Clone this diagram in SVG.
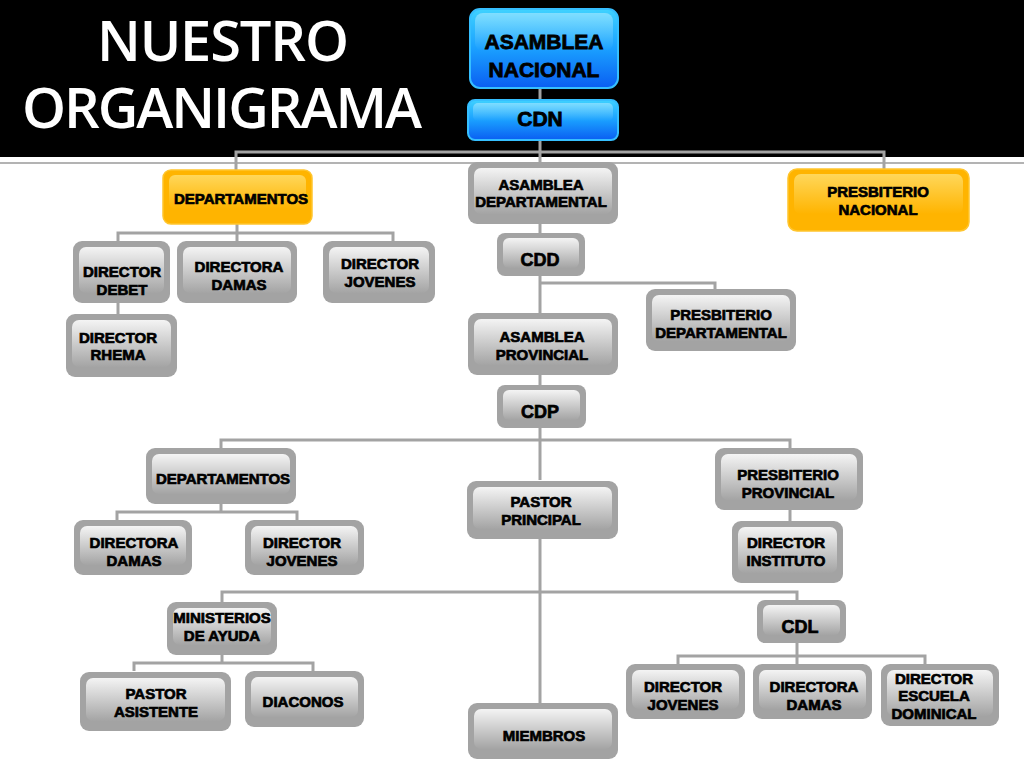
<svg xmlns="http://www.w3.org/2000/svg" width="1024" height="768" viewBox="0 0 1024 768">
<defs>
<linearGradient id="gIn" x1="0" y1="0" x2="0" y2="1"><stop offset="0" stop-color="#f4f4f4"/><stop offset="1" stop-color="#a4a4a4"/></linearGradient>
<linearGradient id="oIn" x1="0" y1="0" x2="0" y2="1"><stop offset="0" stop-color="#ffd75a"/><stop offset="1" stop-color="#ffb400"/></linearGradient>
<linearGradient id="bOut" x1="0" y1="0" x2="0" y2="1"><stop offset="0" stop-color="#3fd2ff"/><stop offset="0.5" stop-color="#1aa0ff"/><stop offset="1" stop-color="#0a5ef2"/></linearGradient>
<linearGradient id="bIn" x1="0" y1="0" x2="0" y2="1"><stop offset="0" stop-color="#ffffff" stop-opacity="0.35"/><stop offset="1" stop-color="#ffffff" stop-opacity="0"/></linearGradient>
</defs>
<style>
.go{fill:#a3a3a3}
.gi{fill:url(#gIn)}
.oo{fill:#ffb400;stroke:#ffc52e;stroke-width:1.5}
.oi{fill:url(#oIn)}
.bo{fill:url(#bOut);stroke:#36bfff;stroke-width:2}
.bi{fill:url(#bIn)}
.t{font-family:"Liberation Sans",Arial,sans-serif;font-weight:bold;font-size:15px;fill:#000;stroke:#000;stroke-width:0.7;text-anchor:middle}
.tb{font-size:21px;stroke-width:0.8}
.tc{font-size:18px}
.title{font-family:"Open Sans","Liberation Sans",sans-serif;font-weight:600;font-size:56px;fill:#fff;text-anchor:middle}
.c{fill:none;stroke:#a3a3a3;stroke-width:3}
</style>
<rect width="1024" height="768" fill="#fff"/>
<rect x="0" y="0" width="1024" height="157" fill="#000"/>
<line x1="0" y1="163" x2="1024" y2="163" stroke="#9a9a9a" stroke-width="1.5"/>
<g id="title">
<text class="title" x="223" y="61" textLength="252">NUESTRO</text>
<text class="title" x="222" y="128" textLength="400">ORGANIGRAMA</text>
</g>
<g id="connectors">
<path class="c" d="M540 88V100"/>
<path class="c" d="M540 140V162"/>
<path class="c" d="M236 170V152H884V169"/>
<path class="c" d="M237 224V241"/>
<path class="c" d="M118 241V233H393V241"/>
<path class="c" d="M118 303V314"/>
<path class="c" d="M540 224V233"/>
<path class="c" d="M540 275V313"/>
<path class="c" d="M540 283H715V289"/>
<path class="c" d="M540 375V385"/>
<path class="c" d="M540 428V480"/>
<path class="c" d="M221 448V440H790V448"/>
<path class="c" d="M221 503V512"/>
<path class="c" d="M117 520V512H297V520"/>
<path class="c" d="M790 510V521"/>
<path class="c" d="M540 538V703"/>
<path class="c" d="M222 603V592H797V600"/>
<path class="c" d="M222 655V663"/>
<path class="c" d="M134 671V663H313V671"/>
<path class="c" d="M797 643V664"/>
<path class="c" d="M678 664V656H925V664"/>
</g>
<g id="n-asamblea-nacional">
<rect class="bo" x="470" y="9" width="148" height="79" rx="10"/>
<rect class="bi" x="475" y="13" width="138" height="38" rx="8"/>
<text class="t tb" x="544" y="49">ASAMBLEA</text>
<text class="t tb" x="544" y="77">NACIONAL</text>
</g>
<g id="n-cdn">
<rect class="bo" x="468" y="100" width="150" height="40" rx="7"/>
<rect class="bi" x="473" y="103" width="140" height="18" rx="5"/>
<text class="t tb" x="540" y="126">CDN</text>
</g>
<g id="n-departamentos-1">
<rect class="oo" x="163" y="170" width="149" height="54" rx="8"/>
<rect class="oi" x="169" y="175" width="137" height="34" rx="6"/>
<text class="t" x="241" y="204">DEPARTAMENTOS</text>
</g>
<g id="n-asamblea-departamental">
<rect class="go" x="468" y="162" width="150" height="62" rx="9"/>
<rect class="gi" x="474" y="168" width="138" height="46" rx="7"/>
<text class="t" x="541" y="190">ASAMBLEA</text>
<text class="t" x="541" y="207">DEPARTAMENTAL</text>
</g>
<g id="n-presbiterio-nacional">
<rect class="oo" x="788" y="169" width="181" height="62" rx="9"/>
<rect class="oi" x="794" y="174" width="169" height="40" rx="7"/>
<text class="t" x="878" y="197">PRESBITERIO</text>
<text class="t" x="878" y="215">NACIONAL</text>
</g>
<g id="n-director-debet">
<rect class="go" x="73" y="241" width="97" height="62" rx="9"/>
<rect class="gi" x="79" y="247" width="85" height="46" rx="7"/>
<text class="t" x="122" y="277">DIRECTOR</text>
<text class="t" x="122" y="295">DEBET</text>
</g>
<g id="n-directora-damas-1">
<rect class="go" x="177" y="241" width="120" height="62" rx="9"/>
<rect class="gi" x="183" y="247" width="108" height="46" rx="7"/>
<text class="t" x="239" y="272">DIRECTORA</text>
<text class="t" x="239" y="290">DAMAS</text>
</g>
<g id="n-director-jovenes-1">
<rect class="go" x="323" y="241" width="112" height="62" rx="9"/>
<rect class="gi" x="329" y="247" width="100" height="46" rx="7"/>
<text class="t" x="380" y="269">DIRECTOR</text>
<text class="t" x="380" y="287">JOVENES</text>
</g>
<g id="n-director-rhema">
<rect class="go" x="66" y="314" width="111" height="63" rx="9"/>
<rect class="gi" x="72" y="320" width="99" height="47" rx="7"/>
<text class="t" x="118" y="343">DIRECTOR</text>
<text class="t" x="118" y="360">RHEMA</text>
</g>
<g id="n-cdd">
<rect class="go" x="497" y="233" width="88" height="43" rx="8"/>
<rect class="gi" x="503" y="238" width="76" height="30" rx="6"/>
<text class="t tc" x="540" y="266">CDD</text>
</g>
<g id="n-presbiterio-departamental">
<rect class="go" x="646" y="289" width="150" height="62" rx="9"/>
<rect class="gi" x="652" y="295" width="138" height="46" rx="7"/>
<text class="t" x="721" y="320">PRESBITERIO</text>
<text class="t" x="721" y="338">DEPARTAMENTAL</text>
</g>
<g id="n-asamblea-provincial">
<rect class="go" x="468" y="313" width="150" height="62" rx="9"/>
<rect class="gi" x="474" y="319" width="138" height="46" rx="7"/>
<text class="t" x="542" y="342">ASAMBLEA</text>
<text class="t" x="542" y="360">PROVINCIAL</text>
</g>
<g id="n-cdp">
<rect class="go" x="497" y="385" width="89" height="43" rx="8"/>
<rect class="gi" x="503" y="390" width="77" height="30" rx="6"/>
<text class="t tc" x="540" y="418">CDP</text>
</g>
<g id="n-departamentos-2">
<rect class="go" x="146" y="448" width="150" height="56" rx="9"/>
<rect class="gi" x="152" y="454" width="138" height="40" rx="7"/>
<text class="t" x="223" y="484">DEPARTAMENTOS</text>
</g>
<g id="n-pastor-principal">
<rect class="go" x="467" y="481" width="151" height="58" rx="9"/>
<rect class="gi" x="473" y="487" width="139" height="42" rx="7"/>
<text class="t" x="541" y="507">PASTOR</text>
<text class="t" x="541" y="525">PRINCIPAL</text>
</g>
<g id="n-presbiterio-provincial">
<rect class="go" x="715" y="448" width="148" height="62" rx="9"/>
<rect class="gi" x="721" y="454" width="136" height="46" rx="7"/>
<text class="t" x="788" y="480">PRESBITERIO</text>
<text class="t" x="788" y="498">PROVINCIAL</text>
</g>
<g id="n-directora-damas-2">
<rect class="go" x="74" y="520" width="118" height="55" rx="9"/>
<rect class="gi" x="80" y="526" width="106" height="39" rx="7"/>
<text class="t" x="134" y="548">DIRECTORA</text>
<text class="t" x="134" y="566">DAMAS</text>
</g>
<g id="n-director-jovenes-2">
<rect class="go" x="245" y="520" width="119" height="55" rx="9"/>
<rect class="gi" x="251" y="526" width="107" height="39" rx="7"/>
<text class="t" x="302" y="548">DIRECTOR</text>
<text class="t" x="302" y="566">JOVENES</text>
</g>
<g id="n-director-instituto">
<rect class="go" x="732" y="521" width="111" height="62" rx="9"/>
<rect class="gi" x="738" y="527" width="99" height="46" rx="7"/>
<text class="t" x="786" y="548">DIRECTOR</text>
<text class="t" x="786" y="566">INSTITUTO</text>
</g>
<g id="n-ministerios-de-ayuda">
<rect class="go" x="167" y="602" width="110" height="53" rx="9"/>
<rect class="gi" x="173" y="608" width="98" height="37" rx="7"/>
<text class="t" x="222" y="623">MINISTERIOS</text>
<text class="t" x="222" y="641">DE AYUDA</text>
</g>
<g id="n-cdl">
<rect class="go" x="757" y="600" width="89" height="43" rx="8"/>
<rect class="gi" x="763" y="605" width="77" height="30" rx="6"/>
<text class="t tc" x="800" y="633">CDL</text>
</g>
<g id="n-pastor-asistente">
<rect class="go" x="80" y="672" width="151" height="59" rx="9"/>
<rect class="gi" x="86" y="678" width="139" height="43" rx="7"/>
<text class="t" x="156" y="699">PASTOR</text>
<text class="t" x="156" y="717">ASISTENTE</text>
</g>
<g id="n-diaconos">
<rect class="go" x="245" y="671" width="119" height="56" rx="9"/>
<rect class="gi" x="251" y="677" width="107" height="40" rx="7"/>
<text class="t" x="303" y="707">DIACONOS</text>
</g>
<g id="n-miembros">
<rect class="go" x="468" y="703" width="150" height="56" rx="9"/>
<rect class="gi" x="474" y="709" width="138" height="40" rx="7"/>
<text class="t" x="544" y="741">MIEMBROS</text>
</g>
<g id="n-director-jovenes-3">
<rect class="go" x="626" y="664" width="119" height="55" rx="9"/>
<rect class="gi" x="632" y="670" width="107" height="39" rx="7"/>
<text class="t" x="683" y="692">DIRECTOR</text>
<text class="t" x="683" y="710">JOVENES</text>
</g>
<g id="n-directora-damas-3">
<rect class="go" x="753" y="664" width="119" height="55" rx="9"/>
<rect class="gi" x="759" y="670" width="107" height="39" rx="7"/>
<text class="t" x="814" y="692">DIRECTORA</text>
<text class="t" x="814" y="710">DAMAS</text>
</g>
<g id="n-director-escuela-dominical">
<rect class="go" x="881" y="664" width="118" height="62" rx="9"/>
<rect class="gi" x="887" y="670" width="106" height="46" rx="7"/>
<text class="t" x="934" y="684">DIRECTOR</text>
<text class="t" x="934" y="701">ESCUELA</text>
<text class="t" x="934" y="719">DOMINICAL</text>
</g>
</svg>
